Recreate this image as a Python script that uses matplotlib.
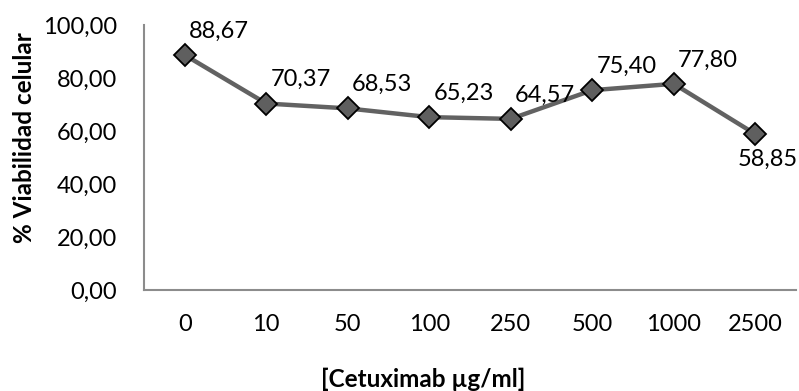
import matplotlib.pyplot as plt
from matplotlib.ticker import FuncFormatter

plt.rcParams['font.family'] = ['Lato', 'DejaVu Sans']

# Datos
concentraciones = ['0', '10', '50', '100', '250', '500', '1000', '2500']
viabilidad = [88.67, 70.37, 68.53, 65.23, 64.57, 75.40, 77.80, 58.85]

fig = plt.figure(figsize=(7.99, 3.91), dpi=100)
ax = fig.add_axes([144 / 799, 1 - 290 / 391, 652 / 799, 265 / 391])

x = range(len(concentraciones))
ax.plot(x, viabilidad, color='#626262', linewidth=3.2, marker='D',
        markersize=11, markerfacecolor='#5f5f5f', markeredgecolor='black',
        markeredgewidth=1.3, zorder=3, clip_on=False)

# Etiquetas de datos
for i, v in enumerate(viabilidad):
    txt = f"{v:.2f}".replace('.', ',')
    if i == len(viabilidad) - 1:
        ax.annotate(txt, (i, v), xytext=(9, -11), textcoords='offset points',
                    ha='center', va='top', fontsize=17)
    else:
        ax.annotate(txt, (i, v), xytext=(3, 12.5), textcoords='offset points',
                    ha='left', va='baseline', fontsize=17)

ax.set_xlim(-0.5, len(concentraciones) - 0.5)
ax.set_ylim(0, 100)
ax.set_yticks([0, 20, 40, 60, 80, 100])
ax.yaxis.set_major_formatter(FuncFormatter(lambda v, p: f"{v:.2f}".replace('.', ',')))
ax.set_xticks(list(x))
ax.set_xticklabels(concentraciones)

for s in ['top', 'right']:
    ax.spines[s].set_visible(False)
for s in ['left', 'bottom']:
    ax.spines[s].set_color('#8c8c8c')
    ax.spines[s].set_linewidth(1.5)

ax.tick_params(axis='both', length=0, labelsize=17, colors='black')
ax.tick_params(axis='y', pad=19.5)
ax.tick_params(axis='x', pad=17)

# Títulos de ejes
fig.text(25 / 799, 1 - 138 / 391, '% Viabilidad celular', rotation=90,
         ha='center', va='center', fontsize=17.5, fontweight='bold')
fig.text(423 / 799, 1 - 379 / 391, '[Cetuximab µg/ml]',
         ha='center', va='center', fontsize=17.5, fontweight='bold')

fig.savefig('out.png', dpi=100)
